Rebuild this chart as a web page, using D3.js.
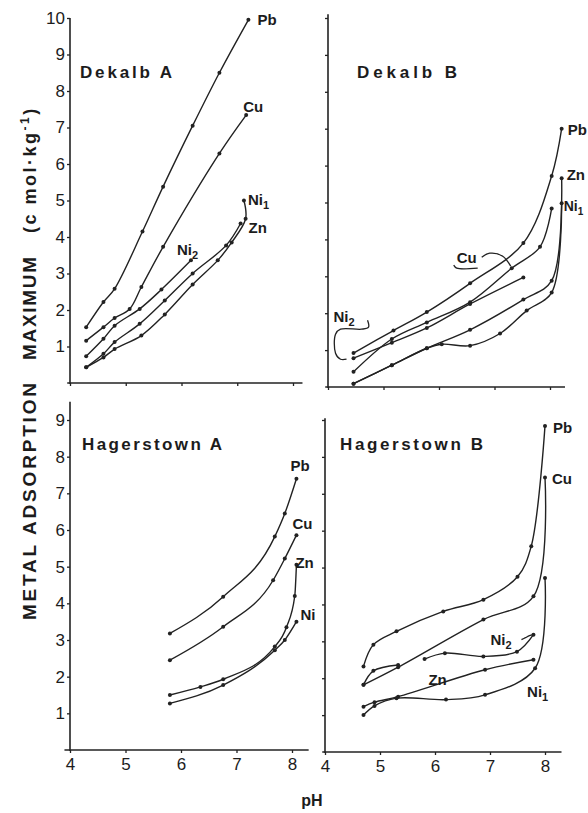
<!DOCTYPE html>
<html>
<head>
<meta charset="utf-8">
<script src="https://cdn.jsdelivr.net/npm/d3@7"></script>
<style>
  body { margin: 0; background: #fff; }
  text { font-family: "Liberation Sans", Arial, sans-serif; fill: #1c1c1c; }
</style>
</head>
<body>
<div id="svg_chart"></div>
<script>
// tick values
var ph_ticks = [4, 5, 6, 7, 8];
var y_ticks_top = [1, 2, 3, 4, 5, 6, 7, 8, 9, 10];
var y_ticks_bottom = [1, 2, 3, 4, 5, 6, 7, 8, 9];

// [pH, adsorption maximum (cmol/kg)]
var dekalbA_Pb = [[4.29,1.53],[4.6,2.22],[4.8,2.58],[5.3,4.15],[5.67,5.38],[6.2,7.05],[6.68,8.5],[7.2,9.95]];
var dekalbA_Cu = [[4.29,1.16],[4.6,1.53],[4.8,1.78],[5.07,2.03],[5.28,2.63],[5.67,3.73],[6.68,6.29],[7.16,7.34]];
var dekalbA_Ni2 = [[4.29,0.73],[4.6,1.21],[4.8,1.57],[5.25,2.03],[5.64,2.56],[6.17,3.36]];
var dekalbA_Zn = [[4.29,0.43],[4.6,0.8],[4.8,1.12],[5.25,1.62],[5.7,2.26],[6.2,3.0],[6.8,3.77],[7.06,4.37]];
var dekalbA_Ni1 = [[4.29,0.43],[4.6,0.7],[4.8,0.93],[5.28,1.3],[5.7,1.88],[6.2,2.7],[6.65,3.36],[6.9,3.85],[7.15,4.5],[7.12,5.0]];

var dekalbB_Pb = [[4.46,0.92],[5.18,1.53],[5.78,2.03],[6.56,2.81],[7.52,3.9],[8.03,5.72],[8.21,7.0]];
var dekalbB_Cu = [[4.46,0.41],[5.15,1.3],[5.78,1.75],[6.56,2.3],[7.31,3.22],[7.82,3.8],[8.03,4.84]];
var dekalbB_Ni2 = [[4.46,0.78],[5.15,1.2],[5.78,1.6],[6.56,2.25],[7.52,2.97]];
var dekalbB_Zn = [[4.46,0.09],[5.15,0.59],[5.78,1.05],[6.56,1.55],[7.52,2.37],[8.03,2.88],[8.21,5.66]];
var dekalbB_Ni1 = [[4.46,0.09],[5.15,0.59],[5.78,1.05],[6.05,1.16],[6.56,1.12],[7.1,1.45],[7.58,2.07],[8.03,2.56],[8.21,4.98]];

var hagerA_Pb = [[5.8,3.18],[6.76,4.18],[7.69,5.82],[7.87,6.45],[8.08,7.4]];
var hagerA_Cu = [[5.8,2.45],[6.76,3.36],[7.66,4.63],[7.87,5.22],[8.08,5.86]];
var hagerA_Zn = [[5.8,1.5],[6.35,1.72],[6.76,1.93],[7.69,2.82],[7.9,3.35],[8.05,4.2],[8.08,5.05]];
var hagerA_Ni = [[5.8,1.27],[6.76,1.77],[7.69,2.72],[7.87,3.0],[8.08,3.5]];

var hagerB_Pb = [[4.7,2.32],[4.88,2.91],[5.3,3.27],[6.15,3.81],[6.88,4.13],[7.5,4.75],[7.75,5.58],[8.0,8.84]];
var hagerB_Cu = [[4.7,1.82],[5.33,2.3],[6.88,3.59],[7.79,4.22],[8.0,7.44]];
var hagerB_CuLoop = [[4.7,1.82],[4.88,2.2],[5.33,2.36]];
var hagerB_Ni2 = [[5.81,2.52],[6.18,2.68],[6.88,2.59],[7.49,2.72],[7.79,3.18]];
var hagerB_Zn = [[4.7,1.23],[4.9,1.35],[5.33,1.5],[6.91,2.23],[7.79,2.5]];
var hagerB_Ni1 = [[4.7,1.0],[4.9,1.25],[5.3,1.46],[6.2,1.42],[6.91,1.55],[7.82,2.27],[8.0,4.72]];

const svg_width = 588
const svg_height = 813

var svg = d3.select('#svg_chart').append('svg')
  .attr('width', svg_width)
  .attr('height', svg_height);

// one pair of scales per panel
var x_da = d3.scaleLinear().domain([4, 8]).range([70, 293]);
var y_da = d3.scaleLinear().domain([0, 10]).range([383, 18]);
var x_db = d3.scaleLinear().domain([4, 8]).range([328, 550]);
var y_db = d3.scaleLinear().domain([0, 10]).range([387, 18]);
var x_ha = d3.scaleLinear().domain([4, 8]).range([70, 292]);
var y_ha = d3.scaleLinear().domain([0, 9]).range([750, 420]);
var x_hb = d3.scaleLinear().domain([4, 8]).range([325, 545]);
var y_hb = d3.scaleLinear().domain([0, 9]).range([752, 420]);

var smooth = d3.curveCatmullRom.alpha(0.5);

var panels = [
  { title: 'Dekalb A', x: x_da, y: y_da, yTicks: y_ticks_top, yLabels: true, xLabels: false,
    xExtent: [3.95, 8.17], yTop: 10, titleAt: [80, 78], titleLen: 92, curve: smooth,
    series: [
      { data: dekalbA_Pb, name: 'Pb', at: -1, dx: 9, dy: 5 },
      { data: dekalbA_Cu, name: 'Cu', at: -1, dx: -3, dy: -3 },
      { data: dekalbA_Ni2, name: 'Ni', sub: '2', at: -1, dx: -14, dy: -5 },
      { data: dekalbA_Zn, name: 'Zn', at: -1, dx: 8, dy: 10 },
      { data: dekalbA_Ni1, name: 'Ni', sub: '1', at: -1, dx: 4, dy: 4 }
    ]},
  { title: 'Dekalb B', x: x_db, y: y_db, yTicks: y_ticks_top, yLabels: false, xLabels: false,
    xExtent: [3.95, 8.27], yTop: 10.1, titleAt: [357, 78], titleLen: 100, curve: smooth,
    series: [
      { data: dekalbB_Pb, name: 'Pb', at: -1, dx: 6, dy: 6 },
      { data: dekalbB_Cu, name: 'Cu', at: 4, dx: -55, dy: -5,
        hooks: [[[-30,-11],[-22,-15],[-9,-12],[-1,-2]], [[-58,-3],[-55,0],[-34,0]]] },
      { data: dekalbB_Ni2, name: 'Ni', sub: '2', at: 0, dx: -20, dy: -36,
        hooks: [[[14,-38],[15,-31],[8,-29],[-13,-29],[-18,-24],[-18,-5],[-13,1],[-7,1]]] },
      { data: dekalbB_Zn, name: 'Zn', at: -1, dx: 5, dy: 2 },
      { data: dekalbB_Ni1, name: 'Ni', sub: '1', at: -1, dx: 2, dy: 8, size: 14 }
    ]},
  { title: 'Hagerstown A', x: x_ha, y: y_ha, yTicks: y_ticks_bottom, yLabels: true, xLabels: true,
    xExtent: [3.9, 8.3], yTop: 9.5, titleAt: [82, 450], titleLen: 140, curve: d3.curveMonotoneX,
    series: [
      { data: hagerA_Pb, name: 'Pb', at: -1, dx: -6, dy: -8 },
      { data: hagerA_Cu, name: 'Cu', at: -1, dx: -4, dy: -6 },
      { data: hagerA_Zn, name: 'Zn', at: -1, dx: -1, dy: 3 },
      { data: hagerA_Ni, name: 'Ni', at: -1, dx: 4, dy: -2 }
    ]},
  { title: 'Hagerstown B', x: x_hb, y: y_hb, yTicks: y_ticks_bottom, yLabels: false, xLabels: true,
    xExtent: [3.95, 8.3], yTop: 9.05, titleAt: [340, 450], titleLen: 143, curve: smooth,
    series: [
      { data: hagerB_Pb, name: 'Pb', at: -1, dx: 8, dy: 7 },
      { data: hagerB_Cu, name: 'Cu', at: -1, dx: 7, dy: 6 },
      { data: hagerB_CuLoop },
      { data: hagerB_Ni2, name: 'Ni', sub: '2', at: -1, dx: -43, dy: 10,
        hooks: [[[-12,5],[-8,3],[-4,1],[0,0]]] },
      { data: hagerB_Zn, name: 'Zn', at: -1, dx: -105, dy: 25 },
      { data: hagerB_Ni1, name: 'Ni', sub: '1', at: 5, dx: -8, dy: 29 }
    ]}
];

panels.forEach(function(p) {
  var g = svg.append('g');

  // y axis
  var y_axis = d3.axisLeft(p.y)
    .tickValues(p.yTicks)
    .tickSize(3)
    .tickPadding(2)
    .tickFormat(p.yLabels ? d3.format('d') : '');
  var ya = g.append('g')
    .attr('transform', `translate(${p.x(4)},0)`)
    .call(y_axis);
  ya.select('.domain').remove();
  ya.selectAll('line').attr('stroke', '#222').attr('stroke-width', 1.3);
  ya.selectAll('text').style('font-size', '17px').style('fill', '#1c1c1c');
  g.append('line')
    .attr('x1', p.x(4)).attr('x2', p.x(4))
    .attr('y1', p.y(0) + 1).attr('y2', p.y(p.yTop))
    .attr('stroke', '#222').attr('stroke-width', 1.6);

  // x axis
  var x_axis = d3.axisBottom(p.x)
    .tickValues(ph_ticks)
    .tickSize(3)
    .tickPadding(5)
    .tickFormat(p.xLabels ? d3.format('d') : '');
  var xa = g.append('g')
    .attr('transform', `translate(0,${p.y(0)})`)
    .call(x_axis);
  xa.select('.domain').remove();
  xa.selectAll('line').attr('stroke', '#222').attr('stroke-width', 1.3);
  xa.selectAll('text').style('font-size', '17px').style('fill', '#1c1c1c');
  g.append('line')
    .attr('x1', p.x(p.xExtent[0])).attr('x2', p.x(p.xExtent[1]))
    .attr('y1', p.y(0)).attr('y2', p.y(0))
    .attr('stroke', '#222').attr('stroke-width', 1.6);

  // panel title
  g.append('text')
    .attr('x', p.titleAt[0])
    .attr('y', p.titleAt[1])
    .attr('textLength', p.titleLen)
    .attr('lengthAdjust', 'spacing')
    .style('font-size', '17px')
    .style('font-weight', 'bold')
    .text(p.title);

  var line = d3.line()
    .x(function(d) { return p.x(d[0]); })
    .y(function(d) { return p.y(d[1]); })
    .curve(p.curve);

  p.series.forEach(function(s) {
    g.append('path')
      .attr('d', line(s.data))
      .attr('fill', 'none')
      .attr('stroke', '#222')
      .attr('stroke-width', 1.4);

    g.selectAll(null).data(s.data).enter()
      .append('circle')
      .attr('cx', function(d) { return p.x(d[0]); })
      .attr('cy', function(d) { return p.y(d[1]); })
      .attr('r', 2)
      .attr('fill', '#222');

    if (!s.name) return;
    var pt = s.at < 0 ? s.data[s.data.length - 1] : s.data[s.at];
    var px = p.x(pt[0]), py = p.y(pt[1]);
    var fs = s.size || 15;

    var t = g.append('text')
      .attr('x', px + s.dx)
      .attr('y', py + s.dy)
      .style('font-size', fs + 'px')
      .style('font-weight', 'bold');
    t.append('tspan').text(s.name);
    if (s.sub) {
      t.append('tspan').attr('dy', 4).style('font-size', (fs - 4) + 'px').text(s.sub);
    }

    // curly leader lines from label to curve
    (s.hooks || []).forEach(function(h) {
      var hook = d3.line()
        .x(function(d) { return px + d[0]; })
        .y(function(d) { return py + d[1]; })
        .curve(smooth);
      g.append('path')
        .attr('d', hook(h))
        .attr('fill', 'none')
        .attr('stroke', '#222')
        .attr('stroke-width', 1.3);
    });
  });
});

// shared axis titles
svg.append('text')
  .attr('transform', 'translate(36,620) rotate(-90)')
  .attr('textLength', 237)
  .attr('lengthAdjust', 'spacing')
  .style('font-size', '19px')
  .style('font-weight', 'bold')
  .text('METAL ADSORPTION');

svg.append('text')
  .attr('transform', 'translate(36,360) rotate(-90)')
  .attr('textLength', 103)
  .attr('lengthAdjust', 'spacing')
  .style('font-size', '19px')
  .style('font-weight', 'bold')
  .text('MAXIMUM');

var unit = svg.append('text')
  .attr('transform', 'translate(36,233) rotate(-90)')
  .style('font-size', '18px')
  .style('font-weight', 'bold')
  .style('letter-spacing', '2.5px');
unit.append('tspan').text('(c mol·kg');
unit.append('tspan').attr('dy', -7).style('font-size', '12px').text('-1');
unit.append('tspan').attr('dy', 7).text(')');

svg.append('text')
  .attr('x', 312)
  .attr('y', 806)
  .attr('text-anchor', 'middle')
  .style('font-size', '16px')
  .style('font-weight', 'bold')
  .text('pH');
</script>
</body>
</html>
